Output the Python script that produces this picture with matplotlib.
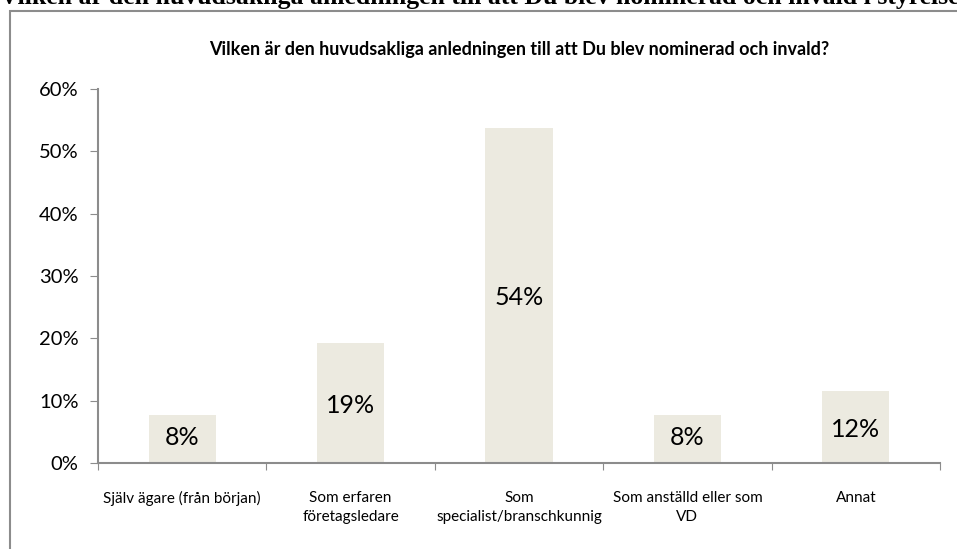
import matplotlib
matplotlib.use("Agg")
import matplotlib.pyplot as plt
from matplotlib.patches import Rectangle
from matplotlib.ticker import FuncFormatter, FixedLocator

categories = ["Själv ägare (från början)", "Som erfaren\nföretagsledare",
              "Som\nspecialist/branschkunnig", "Som anställd eller som\nVD", "Annat"]
values = [7.7, 19.2, 53.8, 7.7, 11.5]
labels = ["8%", "19%", "54%", "8%", "12%"]

plt.rcParams['font.family'] = ['Lato', 'DejaVu Sans']

fig = plt.figure(figsize=(9.57, 5.49), dpi=100)

# outer chart frame (partly cropped in the original)
fig.patches.append(Rectangle((10 / 957, -0.1), 1.2, 1 - 11 / 549 + 0.1, transform=fig.transFigure,
                             fill=False, edgecolor='#8c8c8c', linewidth=1.5))
fig.text(0.0, 1 - 4 / 549, "Vilken är den huvudsakliga anledningen till att Du blev nominerad och invald i styrelsen?",
         family='Liberation Serif', fontweight='bold', fontsize=18.5, va='baseline', ha='left')

ax = fig.add_axes([98 / 957, 1 - 463 / 549, (940 - 98) / 957, (463 - 89) / 549])
x = range(len(categories))
ax.bar(x, values, width=0.4, color='#ECEAE0')
for xi, v, lab in zip(x, values, labels):
    ax.text(xi, v / 2 - 0.4 if v > 10 else v / 2 + 0.2, lab, ha='center', va='center', fontsize=18)

ax.set_xlim(-0.5, len(categories) - 0.5)
ax.set_ylim(0, 60)
ax.yaxis.set_major_locator(FixedLocator(range(0, 61, 10)))
ax.yaxis.set_major_formatter(FuncFormatter(lambda v, p: f"{v:.0f}%"))
ax.xaxis.set_major_locator(FixedLocator([i - 0.5 for i in range(len(categories) + 1)]))
ax.xaxis.set_major_formatter(FuncFormatter(lambda v, p: ""))
ax.xaxis.set_minor_locator(FixedLocator(list(x)))
ax.set_xticklabels(categories, minor=True, linespacing=1.45)
ax.tick_params(axis='x', which='minor', length=0, pad=20, labelsize=11)
ax.tick_params(axis='x', which='major', length=5, color='#8c8c8c', direction='out')
ax.tick_params(axis='y', length=6, color='#8c8c8c', labelsize=14.5, pad=8)
for s in ['top', 'right']:
    ax.spines[s].set_visible(False)
for s in ['left', 'bottom']:
    ax.spines[s].set_color('#8c8c8c')
    ax.spines[s].set_linewidth(1.5)

fig.text(0.5 * (98 + 940) / 957 + 0.0, 1 - 50 / 549,
         "Vilken är den huvudsakliga anledningen till att Du blev nominerad och invald?",
         ha='center', va='center', fontsize=13, fontweight='bold')

fig.savefig("out.png", dpi=100)
